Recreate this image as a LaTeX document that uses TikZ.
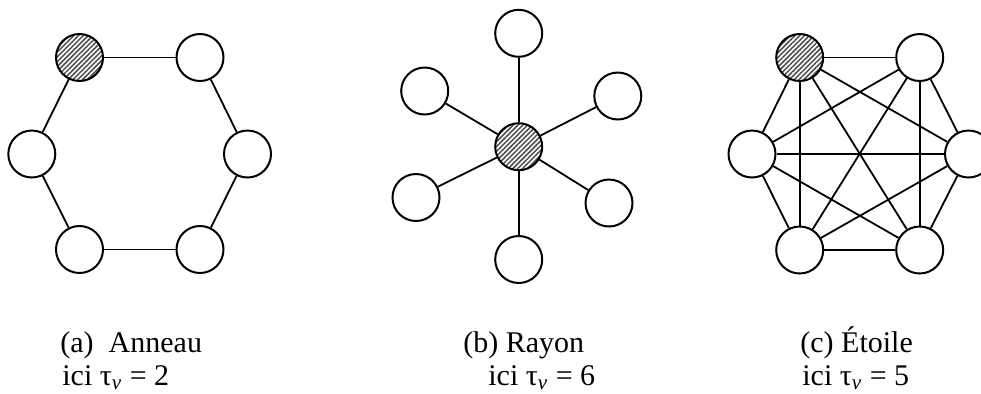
\documentclass[tikz,border=0pt]{standalone}
\usepackage{fontspec}
\setmainfont{Liberation Serif}
\usetikzlibrary{patterns.meta}
\begin{document}
\begin{tikzpicture}[x=0.5pt,y=-0.5pt,
  vertex/.style={circle,draw,line width=1pt,minimum size=23.5pt,inner sep=0pt,fill=white},
  hatched/.style={preaction={fill=white},pattern={Lines[angle=45,distance=1.7pt,line width=0.75pt]},pattern color=black!70},
  edge/.style={line width=0.9pt},
  lab/.style={anchor=base west,inner sep=0pt,font=\fontsize{15}{18}\selectfont}]
\useasboundingbox (0,0) rectangle (981,393);
% (a) Anneau
\node[vertex,hatched] (a1) at (79.5,57.5) {};
\node[vertex] (a2) at (200,57.5) {};
\node[vertex] (a3) at (247.5,154) {};
\node[vertex] (a4) at (200,249.5) {};
\node[vertex] (a5) at (79.5,249.5) {};
\node[vertex] (a6) at (31.8,154) {};
\draw[edge] (a1) -- (a2);
\draw[edge] (a2) -- (a3);
\draw[edge] (a3) -- (a4);
\draw[edge] (a4) -- (a5);
\draw[edge] (a5) -- (a6);
\draw[edge] (a6) -- (a1);
% (b) Rayon
\node[vertex,hatched] (bc) at (518.7,146.7) {};
\node[vertex] (b1) at (518.7,33.3) {};
\node[vertex] (b2) at (617.8,96) {};
\node[vertex] (b3) at (609,203) {};
\node[vertex] (b4) at (518.7,259.5) {};
\node[vertex] (b5) at (416,197.5) {};
\node[vertex] (b6) at (424.7,91) {};
\foreach \k in {1,...,6} \draw[edge] (bc) -- (b\k);
% (c) Etoile
\node[vertex,hatched] (c1) at (799.7,57.5) {};
\node[vertex] (c2) at (919.7,57.5) {};
\node[vertex] (c3) at (968.5,154) {};
\node[vertex] (c4) at (919.7,250) {};
\node[vertex] (c5) at (799.7,250) {};
\node[vertex] (c6) at (752,154) {};
\foreach \i/\js in {1/{2,3,4,5,6},2/{3,4,5,6},3/{4,5,6},4/{5,6},5/{6}}
  \foreach \j in \js \draw[edge] (c\i) -- (c\j);
% labels
\node[lab] (la1) at (60,352) {(a)\ \ Anneau};
\node[lab] (la2) at (62,385) {ici τ\textsubscript{\textit{v}} = 2};
\node[lab] (lb1) at (463,352) {(b) Rayon};
\node[lab] (lb2) at (488,385) {ici τ\textsubscript{\textit{v}} = 6};
\node[lab] (lc1) at (800,352) {(c) Étoile};
\node[lab] (lc2) at (802,385) {ici τ\textsubscript{\textit{v}} = 5};
\end{tikzpicture}
\end{document}
